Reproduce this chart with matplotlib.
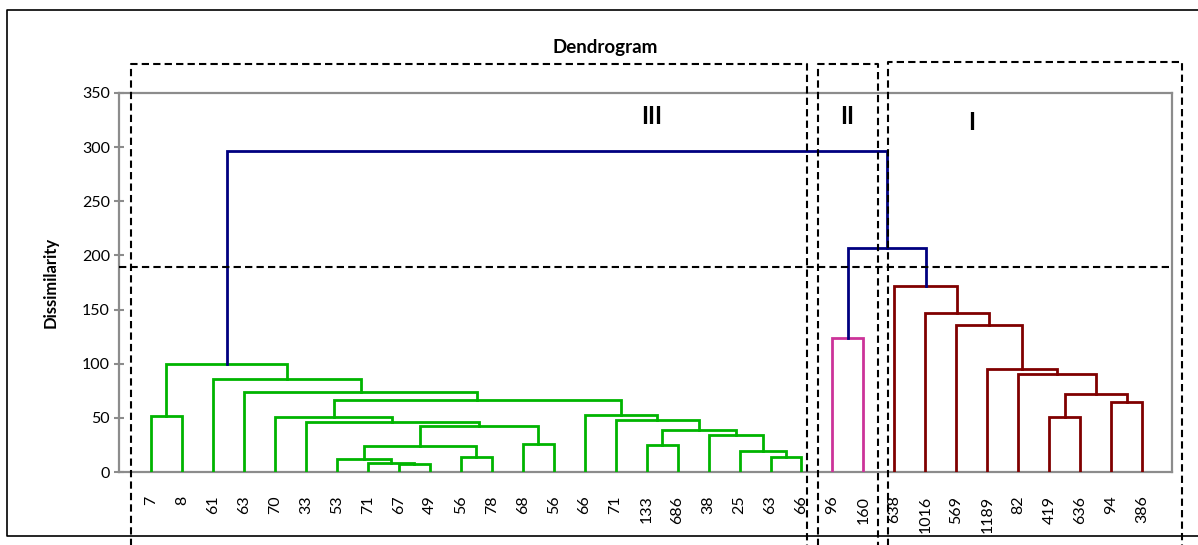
import matplotlib.pyplot as plt
from matplotlib.lines import Line2D

plt.rcParams['font.family'] = ['Lato', 'DejaVu Sans']

# leaves, left to right
leaf_labels = ["7", "8", "61", "63", "70", "33", "53", "71", "67", "49", "56", "78",
               "68", "56", "66", "71", "133", "686", "38", "25", "63", "66",
               "96", "160",
               "638", "1016", "569", "1189", "82", "419", "636", "94", "386"]

# merges: ids < 33 are leaves, 33 + k is merge k
merge_left = [0, 8, 7, 6, 10, 36, 12, 38, 5, 4, 20, 19, 18, 16, 46, 15, 14, 42, 3, 2, 33,
              22, 29, 31, 55, 28, 27, 26, 25, 24, 54, 53]
merge_right = [1, 9, 34, 35, 11, 37, 13, 39, 40, 41, 21, 43, 44, 17, 45, 47, 48, 49, 50, 51, 52,
               23, 30, 32, 56, 57, 58, 59, 60, 61, 62, 63]
merge_height = [52, 7.4, 8.6, 11.7, 13.5, 24, 26, 42.5, 46, 51, 14, 19.7, 34, 25, 38.8, 48,
                52.3, 66.5, 74.2, 85.6, 100,
                123.4, 51, 65, 72, 90.5, 94.8, 135.7, 146.5, 171.7, 206.5, 296.4]
merge_group = ["III"] * 21 + ["II"] + ["I"] * 8 + ["top"] * 2

group_colors = {"III": "#00b400", "II": "#cc3399", "I": "#800000", "top": "#000080"}
cut_level = 189

W, H = 1198, 545
fig = plt.figure(figsize=(W / 100, H / 100), dpi=100)
ax = fig.add_axes([119 / W, 1 - 472 / H, (1172 - 119) / W, (472 - 93) / H])

n = len(leaf_labels)
node_x = list(range(1, n + 1))
node_h = [0] * n
for l, r, h, g in zip(merge_left, merge_right, merge_height, merge_group):
    xl, xr = node_x[l], node_x[r]
    ax.plot([xl, xl, xr, xr], [node_h[l], h, h, node_h[r]], color=group_colors[g],
            lw=2.0, solid_joinstyle='miter', zorder=3)
    node_x.append((xl + xr) / 2)
    node_h.append(h)

ax.axhline(cut_level, color='black', lw=1.5, dashes=(3.5, 2), zorder=4)

ax.set_xlim(-0.03, n + 0.96)
ax.set_ylim(0, 350)
ax.set_yticks(range(0, 351, 50))
ax.set_xticks(range(1, n + 1), leaf_labels, rotation=90)
ax.tick_params(axis='x', length=0, pad=17, labelsize=11.5)
ax.tick_params(axis='y', direction='inout', length=7, width=1.5, color='#8c8c8c',
               labelsize=11.5, pad=3)
for s in ax.spines.values():
    s.set_color('#8c8c8c')
    s.set_linewidth(1.6)
ax.set_ylabel("Dissimilarity", fontsize=12, fontweight='bold')
ax.yaxis.set_label_coords(-0.057, 0.5)

fig.text(605 / W, 1 - 47 / H, "Dendrogram", ha='center', va='center',
         fontsize=13.5, fontweight='bold')
for txt, px, py in [("III", 652, 117), ("II", 847, 117), ("I", 972, 122)]:
    fig.text(px / W, 1 - py / H, txt, ha='center', va='center', fontsize=17, fontweight='bold')

# dashed boxes around the clusters
for x0, x1, y0 in [(131, 807, 64), (818, 878, 64), (888, 1182, 62)]:
    fig.add_artist(Line2D([x0 / W, x0 / W, x1 / W, x1 / W], [-0.05, 1 - y0 / H, 1 - y0 / H, -0.05],
                          transform=fig.transFigure, color='black', lw=1.5, dashes=(3.5, 2)))

# outer frame
fig.add_artist(Line2D([1.01, 7 / W, 7 / W, 1.01], [1 - 10 / H, 1 - 10 / H, 1 - 536 / H, 1 - 536 / H],
                      transform=fig.transFigure, color='black', lw=1.2))

fig.savefig("out.png", dpi=100)
